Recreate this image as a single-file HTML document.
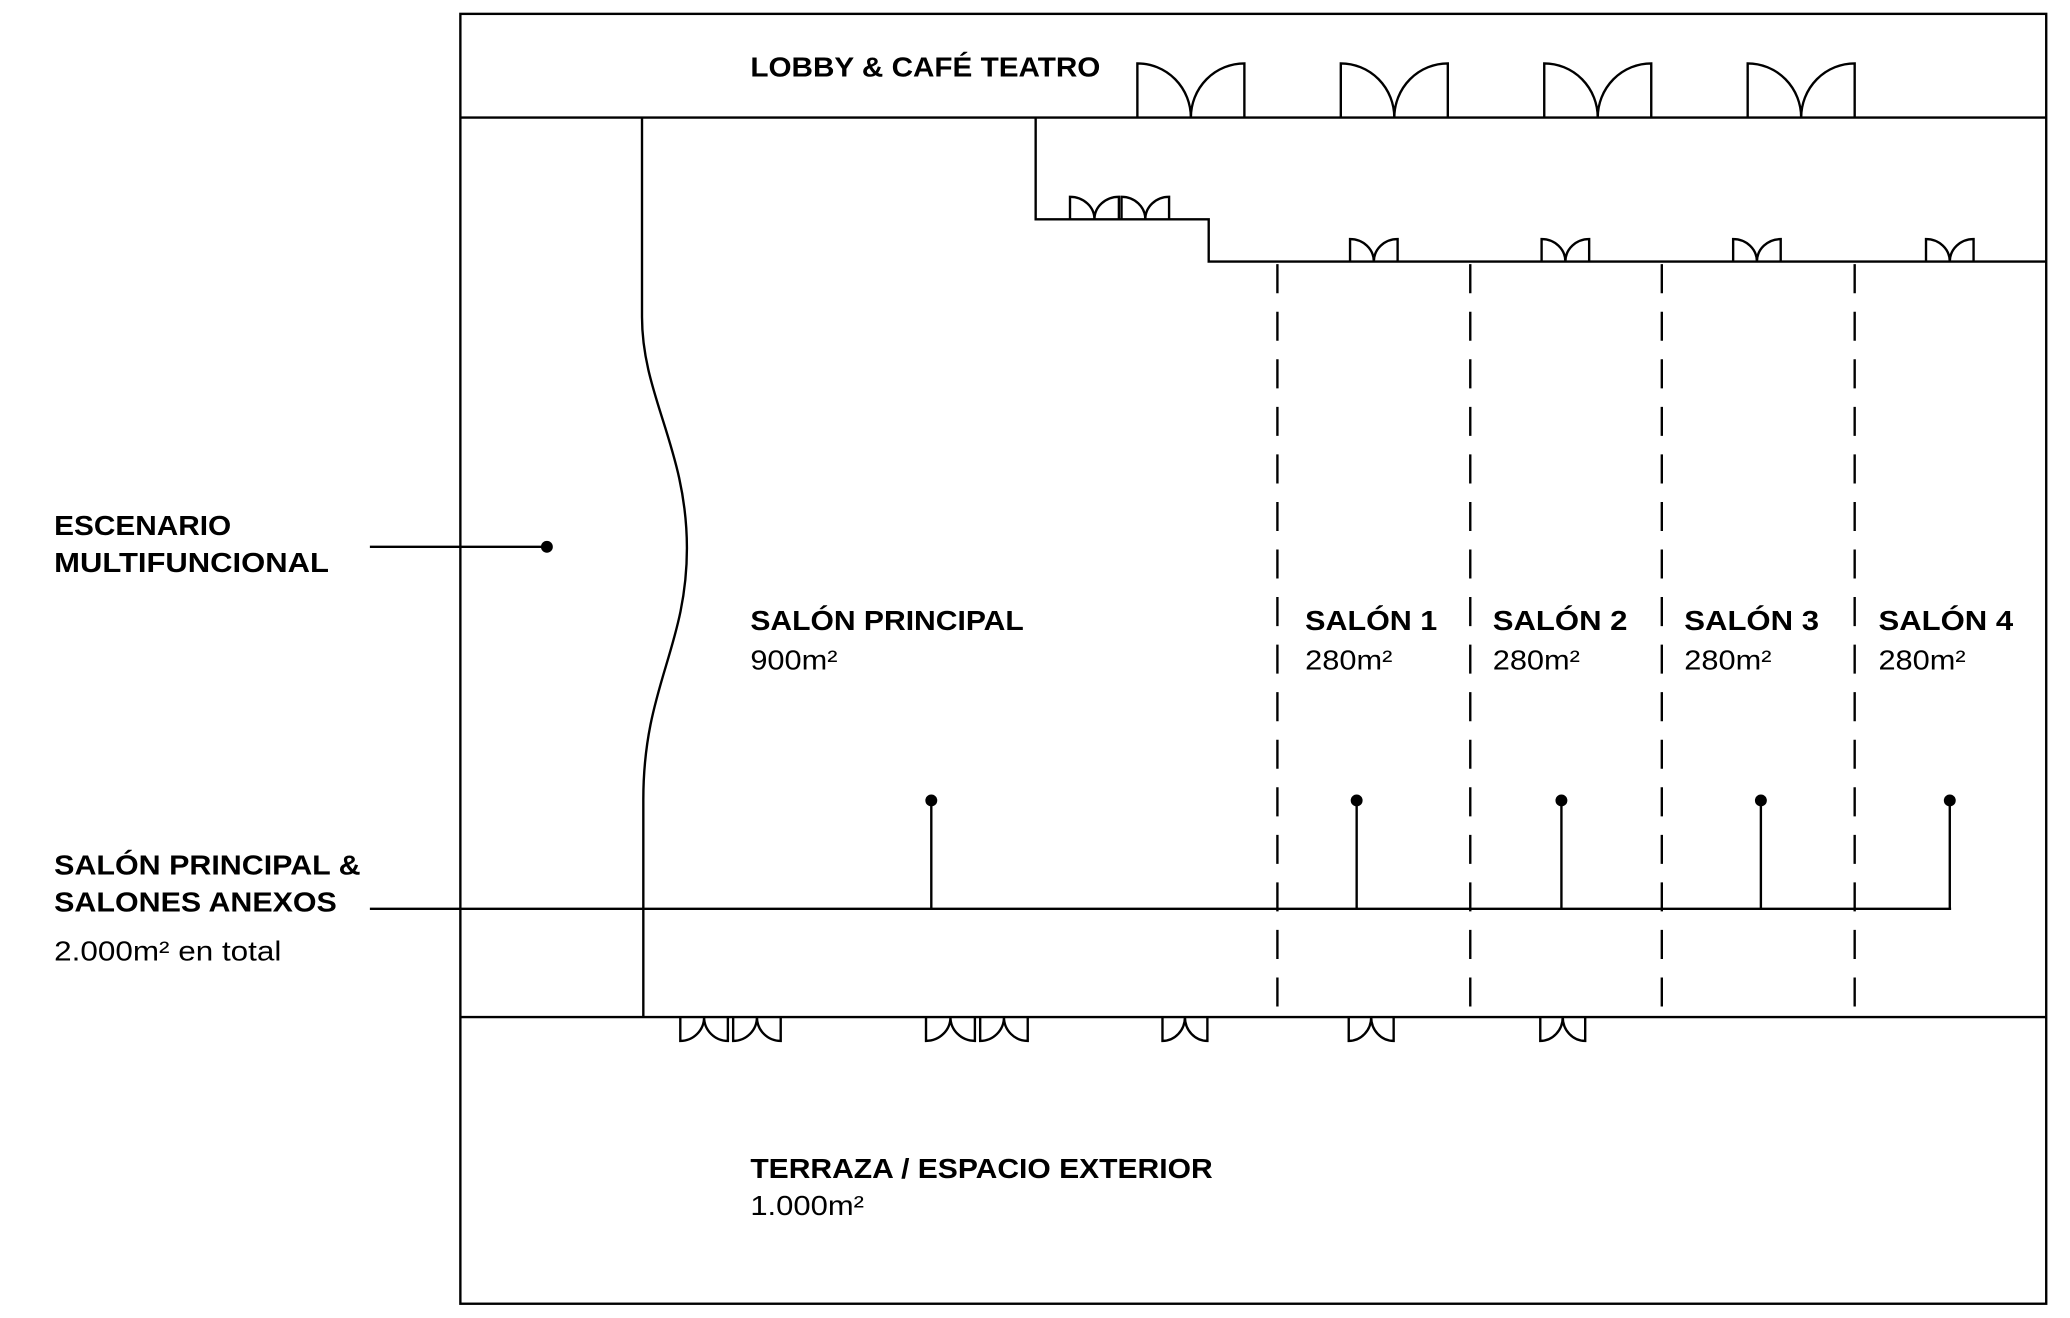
<!DOCTYPE html>
<html><head><meta charset="utf-8"><style>html,body{margin:0;padding:0;background:#fff}svg{display:block}
text{font-family:"Liberation Sans",sans-serif;fill:#000;font-size:21px}
.b{font-weight:bold}</style></head><body>
<svg width="2070" height="1318" viewBox="0 0 1567 997.8" preserveAspectRatio="none" xmlns="http://www.w3.org/2000/svg">
<g fill="none" stroke="#000" stroke-width="1.8">
<rect x="348.5" y="10.5" width="1200.5" height="976.5"/>
<line x1="348" y1="89" x2="1549" y2="89"/>
<line x1="348" y1="770" x2="1549" y2="770"/>
<path d="M486,89 V240 C486,300 520,340 520,415 C520,490 487,520 487,605 V770"/>
<path d="M784,89 V166 H915 V198 H1549"/>
<g stroke-dasharray="22,14">
<line x1="967" y1="200" x2="967" y2="770"/><line x1="1113" y1="200" x2="1113" y2="770"/>
<line x1="1258" y1="200" x2="1258" y2="770"/><line x1="1404" y1="200" x2="1404" y2="770"/>
</g>
<line x1="280" y1="688" x2="1477" y2="688"/>
<line x1="280" y1="414" x2="414" y2="414"/>
<line x1="705" y1="606" x2="705" y2="688"/><line x1="1027" y1="606" x2="1027" y2="688"/>
<line x1="1182" y1="606" x2="1182" y2="688"/><line x1="1333" y1="606" x2="1333" y2="688"/>
<line x1="1476" y1="606" x2="1476" y2="688"/>
<path d="M861,89 V48 A40.5,41 0 0 1 901.5,89 M942,89 V48 A40.5,41 0 0 0 901.5,89"/>
<path d="M1015,89 V48 A40.5,41 0 0 1 1055.5,89 M1096,89 V48 A40.5,41 0 0 0 1055.5,89"/>
<path d="M1169,89 V48 A40.5,41 0 0 1 1209.5,89 M1250,89 V48 A40.5,41 0 0 0 1209.5,89"/>
<path d="M1323,89 V48 A40.5,41 0 0 1 1363.5,89 M1404,89 V48 A40.5,41 0 0 0 1363.5,89"/>
<path d="M810,166 V149 A18.5,17 0 0 1 828.5,166 M847,166 V149 A18.5,17 0 0 0 828.5,166"/>
<path d="M849,166 V149 A18,17 0 0 1 867,166 M885,166 V149 A18,17 0 0 0 867,166"/>
<path d="M1022,198 V181 A18,17 0 0 1 1040,198 M1058,198 V181 A18,17 0 0 0 1040,198"/>
<path d="M1167,198 V181 A18,17 0 0 1 1185,198 M1203,198 V181 A18,17 0 0 0 1185,198"/>
<path d="M1312,198 V181 A18,17 0 0 1 1330,198 M1348,198 V181 A18,17 0 0 0 1330,198"/>
<path d="M1458,198 V181 A18,17 0 0 1 1476,198 M1494,198 V181 A18,17 0 0 0 1476,198"/>
<path d="M515,770 V788 A18,18 0 0 0 533,770 M551,770 V788 A18,18 0 0 1 533,770"/>
<path d="M555,770 V788 A18,18 0 0 0 573,770 M591,770 V788 A18,18 0 0 1 573,770"/>
<path d="M701,770 V788 A18.5,18 0 0 0 719.5,770 M738,770 V788 A18.5,18 0 0 1 719.5,770"/>
<path d="M742,770 V788 A18,18 0 0 0 760,770 M778,770 V788 A18,18 0 0 1 760,770"/>
<path d="M880,770 V788 A17,18 0 0 0 897,770 M914,770 V788 A17,18 0 0 1 897,770"/>
<path d="M1021,770 V788 A17,18 0 0 0 1038,770 M1055,770 V788 A17,18 0 0 1 1038,770"/>
<path d="M1166,770 V788 A17,18 0 0 0 1183,770 M1200,770 V788 A17,18 0 0 1 1183,770"/>
</g>
<g fill="#000">
<circle cx="414" cy="414" r="4.5"/><circle cx="705" cy="606" r="4.5"/><circle cx="1027" cy="606" r="4.5"/>
<circle cx="1182" cy="606" r="4.5"/><circle cx="1333" cy="606" r="4.5"/><circle cx="1476" cy="606" r="4.5"/>
</g>
<text class="b" x="568" y="58" textLength="265" lengthAdjust="spacingAndGlyphs">LOBBY &amp; CAFÉ TEATRO</text>
<text class="b" x="41" y="405" textLength="134" lengthAdjust="spacingAndGlyphs">ESCENARIO</text>
<text class="b" x="41" y="433" textLength="208" lengthAdjust="spacingAndGlyphs">MULTIFUNCIONAL</text>
<text class="b" x="568" y="477" textLength="207" lengthAdjust="spacingAndGlyphs">SALÓN PRINCIPAL</text>
<text x="568" y="507" textLength="66" lengthAdjust="spacingAndGlyphs">900m²</text>
<text class="b" x="988" y="477" textLength="100" lengthAdjust="spacingAndGlyphs">SALÓN 1</text>
<text x="988" y="507" textLength="66" lengthAdjust="spacingAndGlyphs">280m²</text>
<text class="b" x="1130" y="477" textLength="102" lengthAdjust="spacingAndGlyphs">SALÓN 2</text>
<text x="1130" y="507" textLength="66" lengthAdjust="spacingAndGlyphs">280m²</text>
<text class="b" x="1275" y="477" textLength="102" lengthAdjust="spacingAndGlyphs">SALÓN 3</text>
<text x="1275" y="507" textLength="66" lengthAdjust="spacingAndGlyphs">280m²</text>
<text class="b" x="1422" y="477" textLength="102" lengthAdjust="spacingAndGlyphs">SALÓN 4</text>
<text x="1422" y="507" textLength="66" lengthAdjust="spacingAndGlyphs">280m²</text>
<text class="b" x="41" y="662" textLength="232" lengthAdjust="spacingAndGlyphs">SALÓN PRINCIPAL &amp;</text>
<text class="b" x="41" y="690" textLength="214" lengthAdjust="spacingAndGlyphs">SALONES ANEXOS</text>
<text x="41" y="727" textLength="172" lengthAdjust="spacingAndGlyphs">2.000m² en total</text>
<text class="b" x="568" y="892" textLength="350" lengthAdjust="spacingAndGlyphs">TERRAZA / ESPACIO EXTERIOR</text>
<text x="568" y="920" textLength="86" lengthAdjust="spacingAndGlyphs">1.000m²</text>
</svg>
</body></html>
